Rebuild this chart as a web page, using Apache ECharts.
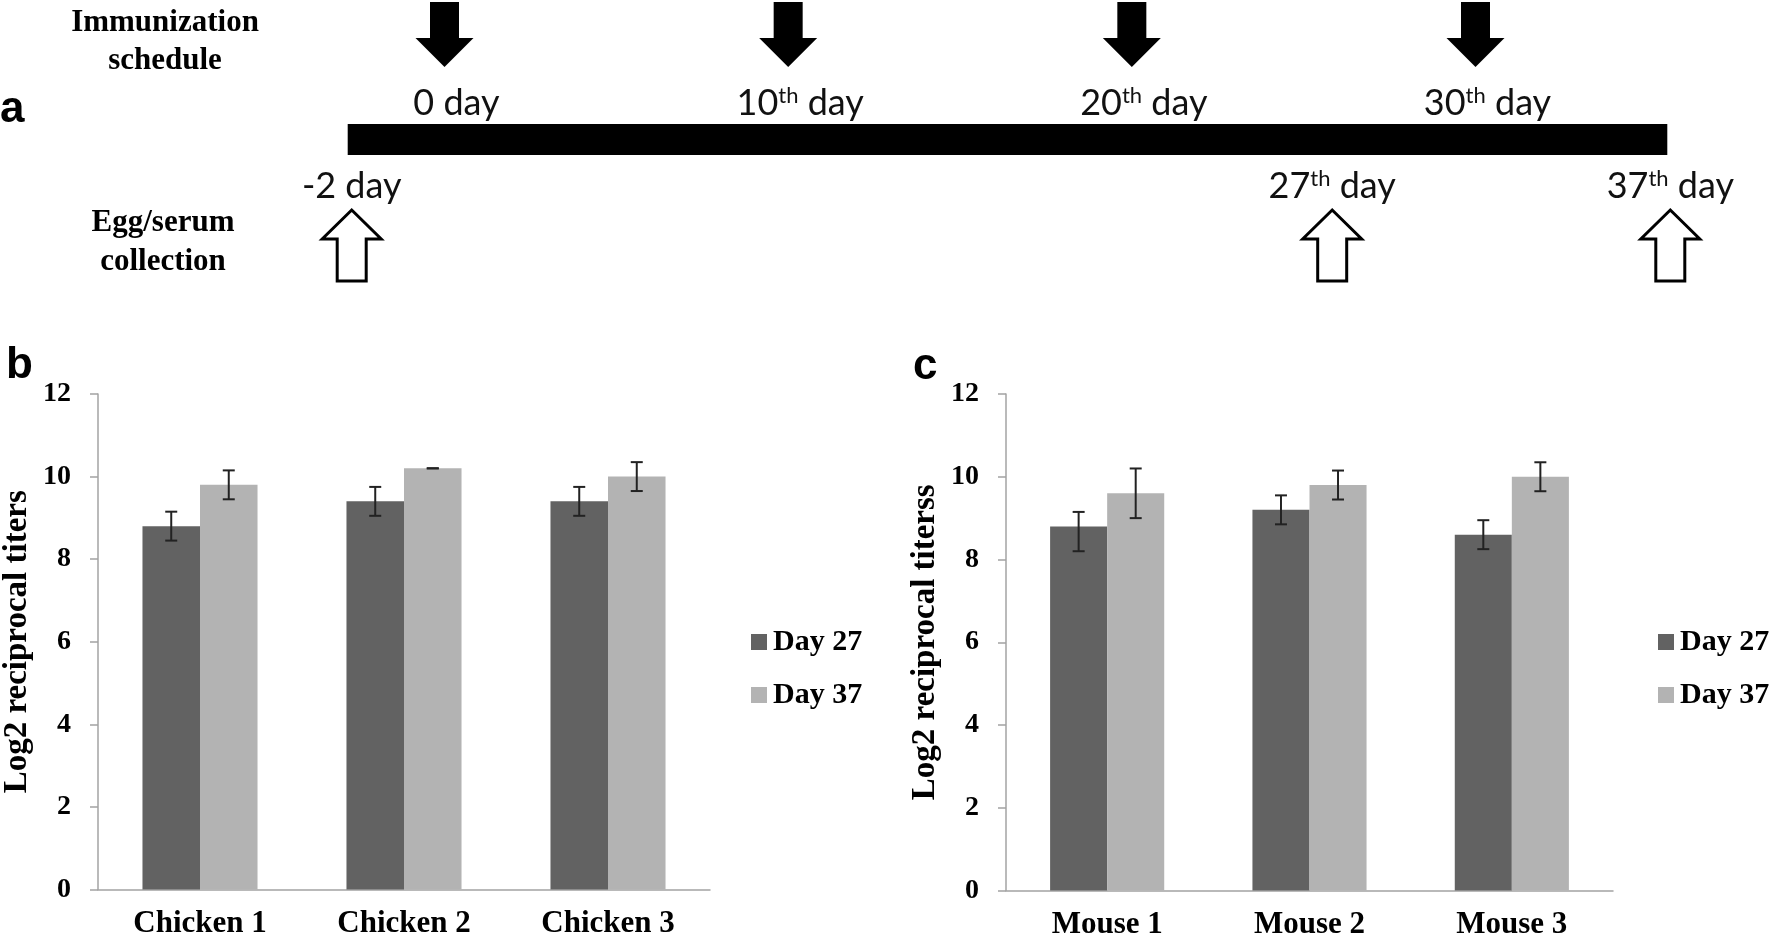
<!DOCTYPE html>
<html><head><meta charset="utf-8">
<script src="https://cdn.jsdelivr.net/npm/echarts@6/dist/echarts.min.js"></script>
<style>html,body{margin:0;padding:0;background:#fff}#c{width:1772px;height:943px}</style>
</head><body><div id="c"></div>
<script>
// ---- Panel a: timeline ----
const immunizationDays = [0, 10, 20, 30];
const immunizationLabels = ['0 day', '10th day', '20th day', '30th day'];
const collectionDays = [-2, 27, 37];
const collectionLabels = ['-2 day', '27th day', '37th day'];

// ---- Panel b: chicken ----
const chickenCategories = ['Chicken 1', 'Chicken 2', 'Chicken 3'];
const chickenDay27 = [8.8, 9.4, 9.4];
const chickenDay37 = [9.8, 10.2, 10.0];
const chickenDay27ErrUp = [0.35, 0.35, 0.35];
const chickenDay27ErrDown = [0.35, 0.35, 0.35];
const chickenDay37ErrUp = [0.35, 0.0, 0.35];
const chickenDay37ErrDown = [0.35, 0.0, 0.35];

// ---- Panel c: mouse ----
const mouseCategories = ['Mouse 1', 'Mouse 2', 'Mouse 3'];
const mouseDay27 = [8.8, 9.2, 8.6];
const mouseDay37 = [9.6, 9.8, 10.0];
const mouseDay27ErrUp = [0.35, 0.35, 0.35];
const mouseDay27ErrDown = [0.6, 0.35, 0.35];
const mouseDay37ErrUp = [0.6, 0.35, 0.35];
const mouseDay37ErrDown = [0.6, 0.35, 0.35];

const seriesNames = ['Day 27', 'Day 37'];
const yMin = 0, yMax = 12, yInterval = 2;

const SERIF = '"Liberation Serif", "Times New Roman", serif';
const SANS = '"Liberation Sans", Arial, sans-serif';
const DAYFONT = 'Lato, "Open Sans", sans-serif';
const DARK = '#626262', LIGHT = '#b3b3b3', AXIS = '#a3a3a3';
const CAT_GAP = 0.436;

function dayRich(label) {
  const m = label.match(/^(-?\d+)(th)?(.*)$/);
  if (m && m[2]) return '{n|' + m[1] + '}{s|' + m[2] + '}{n|' + m[3] + '}';
  return '{n|' + label + '}';
}
const dayRichStyle = {
  n: {fontSize: 36, fontFamily: DAYFONT, fill: '#111', color: '#111'},
  s: {fontSize: 22, fontFamily: DAYFONT, fill: '#111', color: '#111', verticalAlign: 'top'}
};

function immunRender(params, api) {
  const cs = params.coordSys;
  const x = api.coord([api.value(0), 0])[0];
  const y0 = cs.y + 2;
  const idx = params.dataIndex;
  return {
    type: 'group',
    children: [
      {type: 'polygon', shape: {points: [
        [x - 14.5, y0], [x + 14.5, y0], [x + 14.5, y0 + 36], [x + 29, y0 + 36],
        [x, y0 + 65], [x - 29, y0 + 36], [x - 14.5, y0 + 36]]},
       style: {fill: '#000'}},
      {type: 'text', x: x + 12, y: cs.y + 103,
       style: {text: dayRich(immunizationLabels[idx]), rich: dayRichStyle,
               align: 'center', verticalAlign: 'middle', fill: '#111'}}
    ]
  };
}

function collectRender(params, api) {
  const cs = params.coordSys;
  const x = api.coord([api.value(0), 0])[0];
  const idx = params.dataIndex;
  const children = [];
  if (idx === 0) {
    const xs = api.coord([Math.min.apply(null, collectionDays), 0])[0];
    const xe = api.coord([Math.max.apply(null, collectionDays), 0])[0];
    children.push({type: 'rect', shape: {x: xs - 4, y: cs.y, width: xe - xs + 1, height: 31}, style: {fill: '#000'}});
  }
  const yt = cs.y + 86;
  children.push({type: 'polygon', shape: {points: [
    [x, yt], [x + 29.5, yt + 29], [x + 14.5, yt + 29], [x + 14.5, yt + 71],
    [x - 14.5, yt + 71], [x - 14.5, yt + 29], [x - 29.5, yt + 29]]},
    style: {fill: '#fff', stroke: '#000', lineWidth: 3}});
  children.push({type: 'text', x: x, y: cs.y + 62,
    style: {text: dayRich(collectionLabels[idx]), rich: dayRichStyle,
            align: 'center', verticalAlign: 'middle', fill: '#111'}});
  return {type: 'group', children: children};
}

function errRender(sign) {
  return function (params, api) {
    const band = api.size([1, 0])[0];
    const off = sign * band * (1 - CAT_GAP) / 4;
    const lo = api.coord([api.value(0), api.value(1)]);
    const hi = api.coord([api.value(0), api.value(2)]);
    const x = lo[0] + off;
    const st = {stroke: '#222', lineWidth: 2};
    return {type: 'group', children: [
      {type: 'line', shape: {x1: x, y1: lo[1], x2: x, y2: hi[1]}, style: st},
      {type: 'line', shape: {x1: x - 6, y1: lo[1], x2: x + 6, y2: lo[1]}, style: st},
      {type: 'line', shape: {x1: x - 6, y1: hi[1], x2: x + 6, y2: hi[1]}, style: st}
    ]};
  };
}

function errData(vals, up, down) {
  return vals.map((v, i) => [i, v - down[i], v + up[i]]);
}

function valueAxis(gridIndex, name) {
  return {
    gridIndex, type: 'value', min: yMin, max: yMax, interval: yInterval,
    axisLine: {show: true, lineStyle: {color: AXIS, width: 1.5}},
    axisTick: {show: true, length: 8, lineStyle: {color: AXIS, width: 1.5}},
    splitLine: {show: false},
    axisLabel: {fontFamily: SERIF, fontWeight: 'bold', fontSize: 28, color: '#000', margin: 27},
    name, nameLocation: 'middle', nameRotate: 90, nameGap: 64,
    nameTextStyle: {fontFamily: SERIF, fontWeight: 'bold', fontSize: 33, color: '#000'}
  };
}
function catAxis(gridIndex, data) {
  return {
    gridIndex, type: 'category', data,
    axisLine: {show: true, lineStyle: {color: AXIS, width: 1.5}},
    axisTick: {show: false},
    axisLabel: {fontFamily: SERIF, fontWeight: 'bold', fontSize: 31, color: '#000', margin: 19}
  };
}
function hiddenAxis(gridIndex, min, max) {
  return {gridIndex, type: 'value', min, max, show: false, splitLine: {show: false}};
}
function legendAt(left) {
  return {
    orient: 'vertical', left, top: 622, itemWidth: 16, itemHeight: 16, itemGap: 23,
    icon: 'rect', data: seriesNames, selectedMode: false,
    textStyle: {fontFamily: SERIF, fontWeight: 'bold', fontSize: 30, color: '#000', padding: [0, 0, 0, 1]}
  };
}
const titleStyle = {fontFamily: SANS, fontWeight: 'bold', fontSize: 44, color: '#000'};
function sideText(text, x, y) {
  return {type: 'text', x, y, style: {text, fill: '#000', font: 'bold 31px ' + SERIF,
    align: 'center', verticalAlign: 'middle', textAlign: 'center', textVerticalAlign: 'middle'}};
}

const chart = echarts.init(document.getElementById('c'), null, {renderer: 'canvas'});
chart.setOption({
  animation: false,
  backgroundColor: '#fff',
  title: [
    {text: 'a', left: 0, top: 88, padding: 0, textStyle: titleStyle},
    {text: 'b', left: 6, top: 344, padding: 0, textStyle: titleStyle},
    {text: 'c', left: 913, top: 345, padding: 0, textStyle: titleStyle}
  ],
  graphic: [
    sideText('Immunization', 165, 23),
    sideText('schedule', 165, 61),
    sideText('Egg/serum', 163, 223),
    sideText('collection', 163, 262)
  ],
  legend: [legendAt(746), legendAt(1653)],
  grid: [
    {left: 444.5, top: 0, width: 1031, height: 120, outerBoundsMode: 'none'},
    {left: 351.7, top: 124, width: 1318.6, height: 160, outerBoundsMode: 'none'},
    {left: 98, top: 394, width: 612, height: 495.5, outerBoundsMode: 'none'},
    {left: 1006, top: 394, width: 607, height: 496.5, outerBoundsMode: 'none'}
  ],
  xAxis: [
    hiddenAxis(0, 0, 30),
    hiddenAxis(1, -2, 37),
    catAxis(2, chickenCategories),
    catAxis(3, mouseCategories)
  ],
  yAxis: [
    hiddenAxis(0, 0, 1),
    hiddenAxis(1, 0, 1),
    valueAxis(2, 'Log2 reciprocal titers'),
    valueAxis(3, 'Log2 reciprocal titerss')
  ],
  series: [
    {type: 'custom', name: 'Immunization', xAxisIndex: 0, yAxisIndex: 0,
     data: immunizationDays.map(d => [d, 0]), renderItem: immunRender, silent: true},
    {type: 'custom', name: 'Collection', xAxisIndex: 1, yAxisIndex: 1,
     data: collectionDays.map(d => [d, 0]), renderItem: collectRender, silent: true},

    {type: 'bar', name: seriesNames[0], xAxisIndex: 2, yAxisIndex: 2, data: chickenDay27,
     itemStyle: {color: DARK}, barGap: '0%', barCategoryGap: (CAT_GAP * 100) + '%'},
    {type: 'bar', name: seriesNames[1], xAxisIndex: 2, yAxisIndex: 2, data: chickenDay37,
     itemStyle: {color: LIGHT}, barGap: '0%', barCategoryGap: (CAT_GAP * 100) + '%'},
    {type: 'custom', name: 'err-c27', xAxisIndex: 2, yAxisIndex: 2, z: 5,
     data: errData(chickenDay27, chickenDay27ErrUp, chickenDay27ErrDown), renderItem: errRender(-1)},
    {type: 'custom', name: 'err-c37', xAxisIndex: 2, yAxisIndex: 2, z: 5,
     data: errData(chickenDay37, chickenDay37ErrUp, chickenDay37ErrDown), renderItem: errRender(1)},

    {type: 'bar', name: seriesNames[0], xAxisIndex: 3, yAxisIndex: 3, data: mouseDay27,
     itemStyle: {color: DARK}, barGap: '0%', barCategoryGap: (CAT_GAP * 100) + '%'},
    {type: 'bar', name: seriesNames[1], xAxisIndex: 3, yAxisIndex: 3, data: mouseDay37,
     itemStyle: {color: LIGHT}, barGap: '0%', barCategoryGap: (CAT_GAP * 100) + '%'},
    {type: 'custom', name: 'err-m27', xAxisIndex: 3, yAxisIndex: 3, z: 5,
     data: errData(mouseDay27, mouseDay27ErrUp, mouseDay27ErrDown), renderItem: errRender(-1)},
    {type: 'custom', name: 'err-m37', xAxisIndex: 3, yAxisIndex: 3, z: 5,
     data: errData(mouseDay37, mouseDay37ErrUp, mouseDay37ErrDown), renderItem: errRender(1)}
  ]
});
</script>
</body></html>
